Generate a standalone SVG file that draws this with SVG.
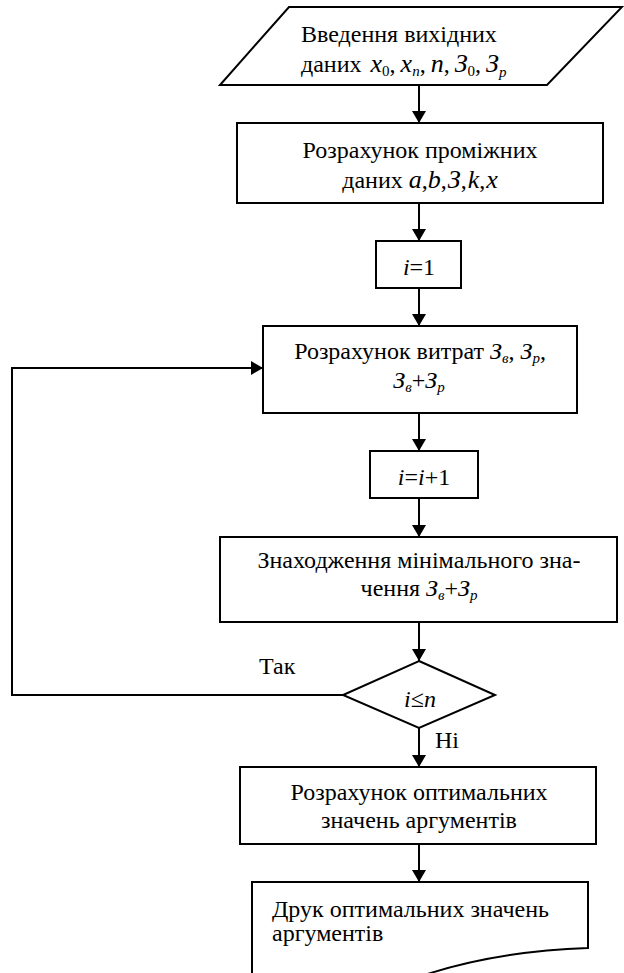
<svg xmlns="http://www.w3.org/2000/svg" width="624" height="973" viewBox="0 0 624 973" font-family="'Liberation Serif', 'Times New Roman', serif">
<defs>
<marker id="ah" viewBox="0 0 12 14" refX="12" refY="7" markerWidth="12" markerHeight="14" markerUnits="userSpaceOnUse" orient="auto">
<path d="M0,0 L12,7 L0,14 Z" fill="#000"/>
</marker>
</defs>
<style>
.s{fill:#fff;stroke:#000;stroke-width:2}
.c{fill:none;stroke:#000;stroke-width:2;marker-end:url(#ah)}
.t{font-family:'Liberation Serif','Times New Roman',serif;font-size:24px;fill:#000}
.m{text-anchor:middle}
.i{font-style:italic}
.mi{font-style:italic;font-size:26px}
.sb{font-size:15px;font-style:italic}
.sn{font-size:15px}
</style>
<rect width="624" height="973" fill="#fff"/>
<g id="connectors">
<line class="c" x1="419" y1="85" x2="419" y2="123"/>
<line class="c" x1="419" y1="203" x2="419" y2="241"/>
<line class="c" x1="419" y1="288" x2="419" y2="326"/>
<line class="c" x1="419" y1="413" x2="419" y2="451"/>
<line class="c" x1="419" y1="498" x2="419" y2="537"/>
<line class="c" x1="419" y1="622" x2="419" y2="661"/>
<line class="c" x1="419" y1="728" x2="419" y2="767"/>
<line class="c" x1="419" y1="844" x2="419" y2="882"/>
<polyline class="c" points="343,695 12,695 12,368 263,368"/>
<text class="t" x="259" y="674">Так</text>
<text class="t" x="435" y="748">Ні</text>
</g>
<g id="input">
<polygon class="s" points="289,7 622,7 547,85 220,85"/>
<text class="t" x="301" y="42">Введення вихідних</text>
<text class="t" x="301" y="72">даних <tspan class="mi" dx="3">x</tspan><tspan class="sn" dy="4">0</tspan><tspan dy="-4">,</tspan><tspan class="mi" dx="5">x</tspan><tspan class="sb" dy="4">n</tspan><tspan dy="-4">,</tspan><tspan class="mi" dx="5">n</tspan><tspan>,</tspan><tspan class="mi" dx="5">З</tspan><tspan class="sn" dy="4">0</tspan><tspan dy="-4">,</tspan><tspan class="mi" dx="5">З</tspan><tspan class="sb" dy="5">p</tspan></text>
</g>
<g id="calc1">
<rect class="s" x="237" y="123" width="366" height="80"/>
<text class="t m" x="420" y="158">Розрахунок проміжних</text>
<text class="t m" x="420" y="188">даних <tspan class="mi">a</tspan>,<tspan class="mi">b</tspan>,<tspan class="mi" dx="1">З</tspan>,<tspan class="mi" dx="1">k</tspan>,<tspan class="mi" dx="1">x</tspan></text>
</g>
<g id="init">
<rect class="s" x="376" y="241" width="85" height="47"/>
<text class="t m" x="419" y="275"><tspan class="i">i</tspan>=1</text>
</g>
<g id="costs">
<rect class="s" x="263" y="326" width="314" height="87"/>
<text class="t m" x="420" y="359">Розрахунок витрат <tspan class="i">З</tspan><tspan class="sb" dy="4">в</tspan><tspan dy="-4">, </tspan><tspan class="i">З</tspan><tspan class="sb" dy="4">р</tspan><tspan dy="-4">,</tspan></text>
<text class="t m" x="419" y="388"><tspan class="i">З</tspan><tspan class="sb" dy="4">в</tspan><tspan dy="-4">+</tspan><tspan class="i">З</tspan><tspan class="sb" dy="4">р</tspan></text>
</g>
<g id="incr">
<rect class="s" x="370" y="451" width="108" height="47"/>
<text class="t m" x="424" y="485"><tspan class="i">i</tspan>=<tspan class="i">i</tspan>+1</text>
</g>
<g id="min">
<rect class="s" x="220" y="537" width="397" height="85"/>
<text class="t m" x="419" y="568">Знаходження мінімального зна-</text>
<text class="t m" x="419" y="596">чення <tspan class="i">З</tspan><tspan class="sb" dy="4">в</tspan><tspan dy="-4">+</tspan><tspan class="i">З</tspan><tspan class="sb" dy="4">р</tspan></text>
</g>
<g id="decision">
<polygon class="s" points="419,661 495,695 419,728 343,695"/>
<text class="t m" x="420" y="707"><tspan class="i">i</tspan>≤<tspan class="i">n</tspan></text>
</g>
<g id="optimal">
<rect class="s" x="240" y="767" width="356" height="77"/>
<text class="t m" x="419" y="800">Розрахунок оптимальних</text>
<text class="t m" x="419" y="828">значень аргументів</text>
</g>
<g id="print">
<path class="s" d="M252,882 H588 V948 C530,950 470,958 410,980 L252,980 Z"/>
<text class="t" x="272" y="917">Друк оптимальних значень</text>
<text class="t" x="272" y="941">аргументів</text>
</g>
</svg>
